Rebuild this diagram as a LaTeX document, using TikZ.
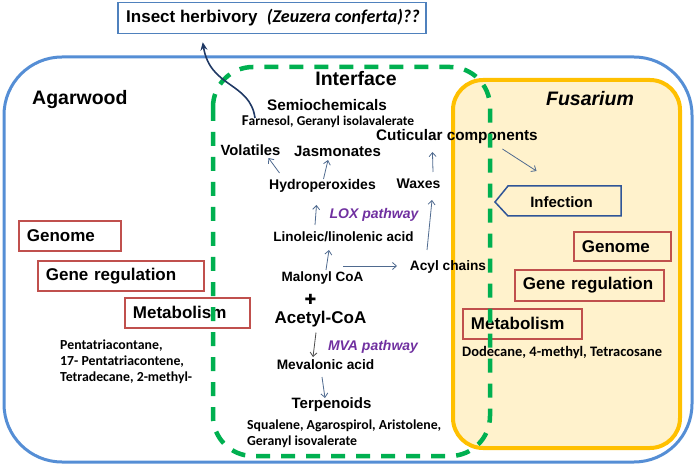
\documentclass[tikz,border=0pt]{standalone}
\usepackage{fontspec}
\setmainfont{Liberation Sans}
\newfontfamily\calfont{Carlito}
\newfontfamily\symfont{DejaVu Sans}
\usetikzlibrary{arrows.meta}
\definecolor{outerblue}{RGB}{85,142,213}
\definecolor{boxblue}{RGB}{79,129,189}
\definecolor{infblue}{RGB}{47,85,151}
\definecolor{dgreen}{RGB}{0,176,80}
\definecolor{orng}{RGB}{255,192,0}
\definecolor{orngfill}{RGB}{255,242,204}
\definecolor{boxred}{RGB}{192,80,77}
\definecolor{purp}{RGB}{112,48,160}
\definecolor{arrcol}{RGB}{79,106,143}
\definecolor{navy}{RGB}{31,56,100}
\newcommand\fsz[1]{\fontsize{#1}{#1}\selectfont}
\tikzset{
  lbl/.style={inner sep=0pt, font=\bfseries\fsz{#1}},
  small/.style={inner sep=0pt, font=\calfont\bfseries\fontsize{#1}{16}\selectfont, align=left},
  pathw/.style={inner sep=0pt, text=purp, font=\bfseries\itshape\fsz{14}},
  redbox/.style={draw=boxred, line width=1.8pt, anchor=north west, inner xsep=8pt, inner ysep=0pt, align=left, font=\bfseries\fsz{17}},
  arr/.style={draw=arrcol, line width=0.8pt, -{Straight Barb[length=4pt,width=7pt]}},
}
\begin{document}
\begin{tikzpicture}[x=1pt,y=-1pt]
\useasboundingbox (0,0) rectangle (697,468);
% outer agarwood frame
\draw[outerblue, line width=3pt, rounded corners=58pt] (4,57) rectangle (692,462);
% fusarium box
\draw[orng, fill=orngfill, line width=4pt, rounded corners=30pt] (453,80) rectangle (680,448);
% insect box
\node[draw=boxblue, line width=1.5pt, minimum width=308pt, minimum height=31pt, inner sep=0pt, anchor=north west] (insbox) at (117,2) {};
\node[inner sep=0pt, anchor=west, font=\bfseries\fsz{17}] (ins) at (126,18) {Insect herbivory~~{\calfont\itshape\fsz{18}(Zeuzera conferta)??}};

% titles
\node[lbl=19.5, anchor=west] (agar) at (32,100) {Agarwood};
\node[lbl=19.5] (iface) at (356,79) {Interface};
\node[lbl=19.5, font=\bfseries\itshape\fsz{19.5}] (fus) at (590,99) {Fusarium};

% interface content
\node[lbl=15.3] (sem) at (327,105) {Semiochemicals};
\node[small=13.5] (farn) at (328,122) {{\fsz{15}F}arnesol, Geranyl isolavalerate};
\node[lbl=15.3, anchor=west] (cut) at (376,137) {Cuticular components};
\node[lbl=14.8] (vol) at (250.5,150) {Volatiles};
\node[lbl=15] (jas) at (337.5,151) {Jasmonates};
\node[lbl=14] (hyd) at (322.5,186) {Hydroperoxides};
\node[lbl=14] (wax) at (418.5,184) {Waxes};
\node[pathw] (lox) at (374,215) {LOX pathway};
\node[lbl=13.5] (lin) at (343.5,237) {Linoleic/linolenic acid};
\node[lbl=13.7] (acyl) at (448,267) {Acyl chains};
\node[lbl=13.5] (mal) at (322.5,278) {Malonyl CoA};
\node[inner sep=0pt, font=\symfont\fsz{14}] (plus) at (310.5,299.5) {✚};
\node[lbl=17] (acet) at (320.5,319.5) {Acetyl-CoA};
\node[pathw] (mva) at (373,347) {MVA pathway};
\node[lbl=13.7] (mev) at (325.5,365) {Mevalonic acid};
\node[lbl=15] (terp) at (331.5,405) {Terpenoids};
\node[small=13.8, anchor=west] (squa) at (247,434) {Squalene, Agarospirol, Aristolene,\\Geranyl isovalerate};

% agarwood side
\node[redbox, minimum width=102pt, minimum height=30pt, text width=86pt] (gen1) at (18,220) {Genome};
\node[redbox, minimum width=166pt, minimum height=30pt, text width=150pt] (reg1) at (37,260) {Gene regulation};
\node[redbox, minimum width=125pt, minimum height=30pt, text width=109pt] (met1) at (124,297) {Metabolism};
\node[small=13.8, anchor=west] (pent) at (60,362) {Pentatriacontane,\\17- Pentatriacontene,\\Tetradecane, 2-methyl-};

% fusarium side
\draw[infblue, line width=1.5pt, line join=miter] (495,202) -- (508,186) -- (621,186) -- (621,216) -- (508,216) -- cycle;
\node[lbl=15] (inf) at (561.5,202) {Infection};
\node[redbox, minimum width=97pt, minimum height=29pt, text width=81pt] (gen2) at (573,231) {Genome};
\node[redbox, minimum width=149pt, minimum height=31pt, text width=133pt] (reg2) at (514,269) {Gene regulation};
\node[redbox, minimum width=119pt, minimum height=30pt, text width=103pt] (met2) at (462,308) {Metabolism};
\node[small=14.5, anchor=west] (dod) at (462,353) {Dodecane, 4-methyl, Tetracosane};

% arrows
\draw[arr] ([shift={(-43,-13)}]hyd.center) -- ([shift={(18,8)}]vol.center);
\draw[arr] ([shift={(1,-7)}]hyd.center) -- ([shift={(-9.5,9)}]jas.center);
\draw[arr] ([shift={(-28.5,-12)}]lin.center) -- ([shift={(-6,19)}]hyd.center);
\draw[arr] ([shift={(3.5,-8)}]mal.center) -- ([shift={(-14.5,13)}]lin.center);
\draw[arr] ([shift={(20.5,-12)}]mal.center) -- ([shift={(-51,-1)}]acyl.center);
\draw[arr] ([shift={(-21,-17)}]acyl.center) -- ([shift={(13.5,16)}]wax.center);
\draw[arr] ([shift={(14.5,-12)}]wax.center) -- ([shift={(-24.5,15)}]cut.center);
\draw[arr] ([shift={(45.5,12)}]cut.center) -- ([shift={(-25,-31)}]inf.center);
\draw[arr, draw=black!70] ([shift={(-4.5,13)}]acet.center) -- ([shift={(-12.5,-8)}]mev.center);
\draw[arr] ([shift={(-3.5,12)}]mev.center) -- ([shift={(-6.5,-7)}]terp.center);

% interface dashed frame
\draw[dgreen, line width=4.5pt, dash pattern=on 14pt off 11pt, rounded corners=40pt] (213,67) rectangle (490,456);

% curved arrow to insect box
\draw[navy, line width=1.6pt, -{Stealth[length=8pt,width=7pt]}] ([shift={(-72,13)}]sem.center) .. controls (250,82) and (210,88) .. ([shift={(-69,24)}]insbox.center);
\end{tikzpicture}
\end{document}
